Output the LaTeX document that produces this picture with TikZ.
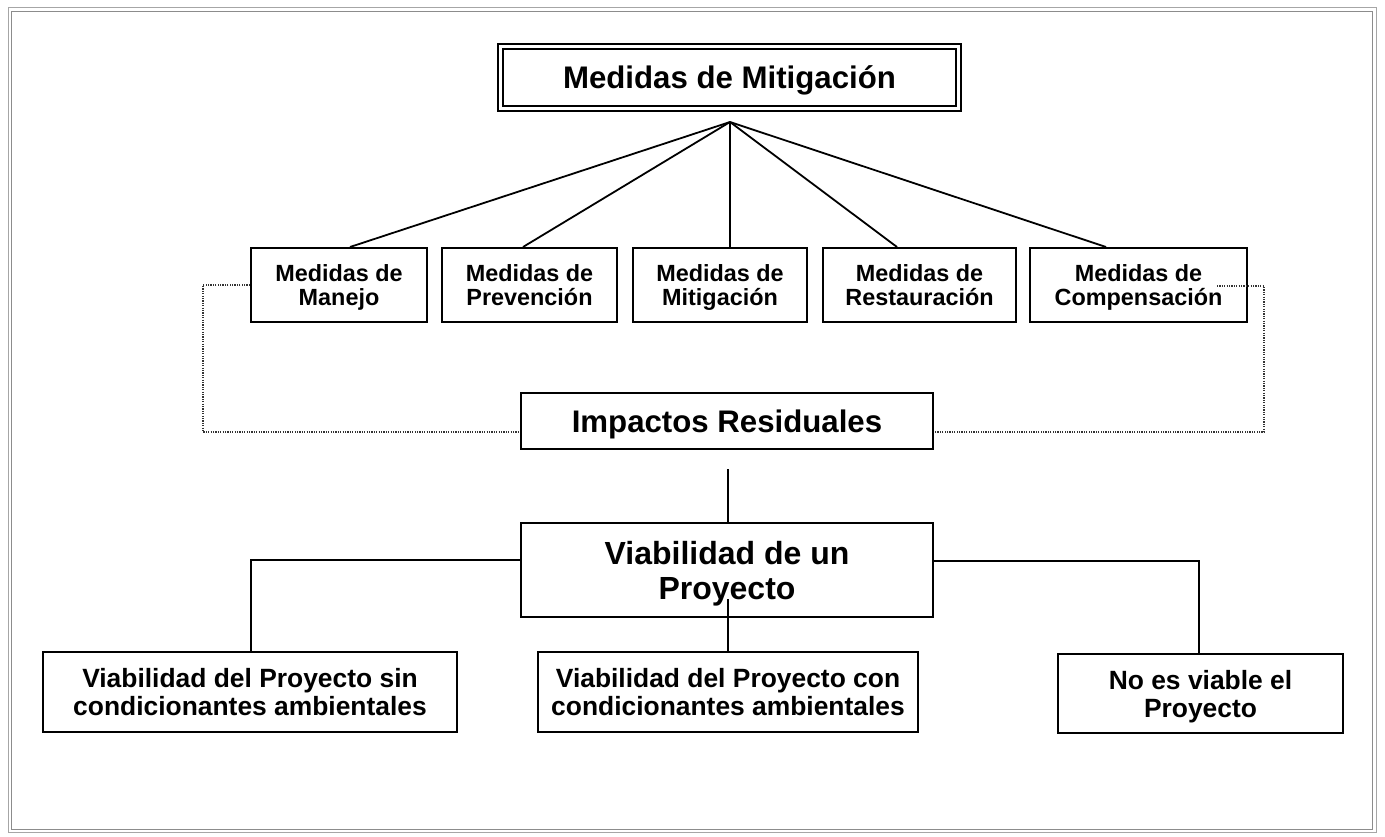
\documentclass[tikz,border=0pt]{standalone}
\usepackage{fontspec}
\setmainfont{Liberation Sans}
\usetikzlibrary{calc}
\newcommand\myTop{\rule{0pt}{0.97em}}
\newcommand\myBot{\rule[-0.25em]{0pt}{0.25em}}
\begin{document}
\begin{tikzpicture}[x=0.5pt,y=-0.5pt,
  box/.style={draw=black,line width=1pt,inner sep=0pt,align=center,font=\bfseries},
  rowbox/.style={box,minimum height=37pt,font=\bfseries\fontsize{11.7}{12.2}\selectfont},
  botbox/.style={box,minimum height=40pt,font=\bfseries\fontsize{13.2}{14}\selectfont},
  conn/.style={draw=black,line width=0.9pt},
  dotconn/.style={draw=black!80,line width=0.6pt,dash pattern=on 0.6pt off 0.6pt}]
\useasboundingbox (0,0) rectangle (1385,836);
\draw[black!35,line width=0.5pt] (8,7) rectangle (1376,832);
\draw[black!45,line width=0.5pt] (11,11) rectangle (1372,829);

\node[box,draw=black,double,double distance=1.8pt,line width=0.9pt,minimum width=229pt,minimum height=31pt,
  font=\bfseries\fontsize{15.6}{17}\selectfont] (title) at (729.5,77.5) {\myTop Medidas de Mitigación\myBot};
\coordinate (apex) at (730,122);

\node[rowbox,minimum width=88pt] (man) at (339,285) {\myTop Medidas de\\Manejo\myBot};
\node[rowbox,minimum width=87.5pt] (pre) at (529.5,285) {\myTop Medidas de\\Prevención\myBot};
\node[rowbox,minimum width=87pt] (mit) at (720,285) {\myTop Medidas de\\Mitigación\myBot};
\node[rowbox,minimum width=96.5pt] (res) at (919.5,285) {\myTop Medidas de\\Restauración\myBot};
\node[rowbox,minimum width=108.5pt] (com) at (1138.5,285) {\myTop Medidas de\\Compensación\myBot};

\node[box,minimum width=206pt,minimum height=28pt,font=\bfseries\fontsize{15.6}{17}\selectfont] (imp) at (727,421) {\myTop Impactos Residuales\myBot};
\node[box,minimum width=206pt,minimum height=47pt,font=\bfseries\fontsize{16}{17.5}\selectfont] (via) at (727,570) {\myTop Viabilidad de un\\Proyecto\myBot};

\node[botbox,minimum width=207pt] (sin) at (250,692) {\myTop Viabilidad del Proyecto sin\\condicionantes ambientales\myBot};
\node[botbox,minimum width=190pt] (con) at (728,692) {\myTop Viabilidad del Proyecto con\\condicionantes ambientales\myBot};
\node[botbox,minimum width=142.5pt,minimum height=39.5pt] (nov) at (1200.5,693.5) {\myTop No es viable el\\Proyecto\myBot};

\draw[conn] (apex) -- ($(man.north)+(11,0)$);
\draw[conn] (apex) -- ($(pre.north)+(-6.5,0)$);
\draw[conn] (apex) -- ($(mit.north)+(10,0)$);
\draw[conn] (apex) -- ($(res.north)+(-22.5,0)$);
\draw[conn] (apex) -- ($(com.north)+(-32.5,0)$);

\coordinate (dl) at (203,432);
\coordinate (dr) at (1264,432);
\coordinate (cs) at (1217,286);
\draw[dotconn] (man.west) -| (dl) -- (dl -| imp.west);
\draw[dotconn] (cs) -| (dr) -- (dr -| imp.east);

\draw[conn] ($(imp.south)+(1,19)$) -- (via.north -| 728,0);
\draw[conn] ($(via.west)+(0,-10)$) -| (sin.north -| 251,0);
\draw[conn] ($(via.east)+(0,-9)$) -| (nov.north -| 1199,0);
\draw[conn] ($(via.south)+(1,-19)$) -- (con.north -| 728,0);
\end{tikzpicture}
\end{document}
